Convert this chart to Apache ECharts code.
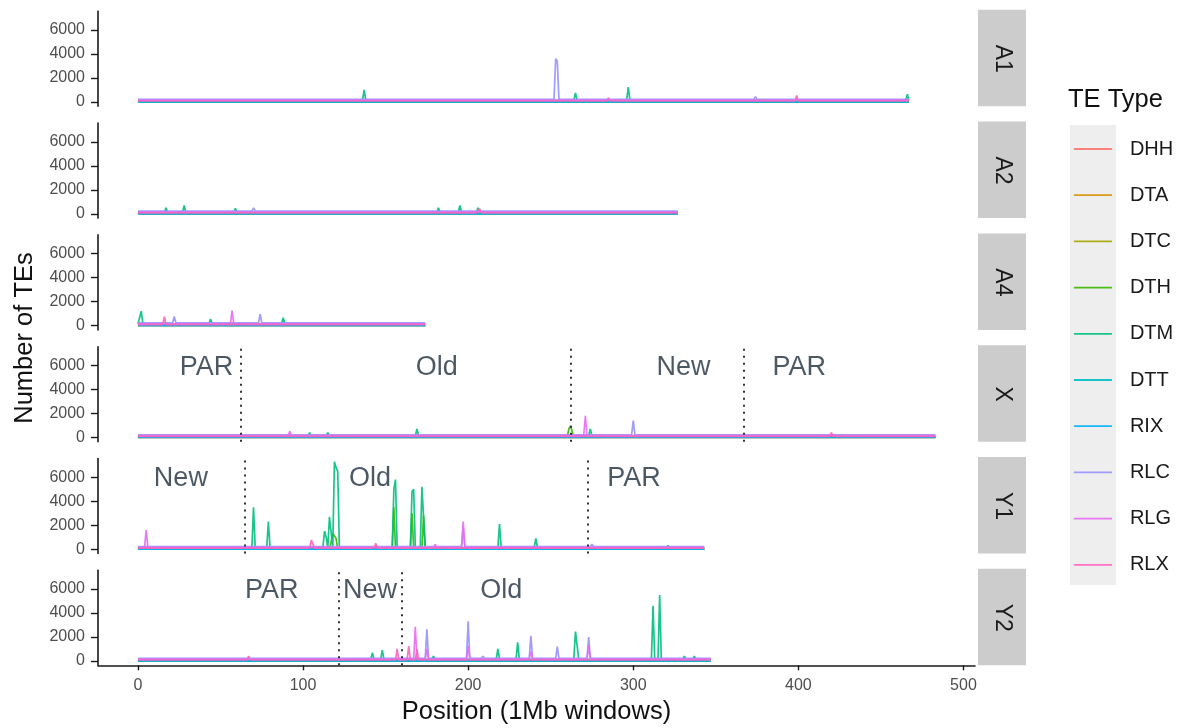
<!DOCTYPE html>
<html>
<head>
<meta charset="utf-8">
<title>TE counts along chromosomes</title>
<script src="https://cdn.jsdelivr.net/npm/echarts@6/dist/echarts.min.js"></script>
<style>
    html, body { margin: 0; padding: 0; background: #fff; }
    #chart { width: 1182px; height: 728px; }
</style>
</head>
<body>
<div id="chart"></div>
<script>
// facet rows and TE types
const panels = ['A1', 'A2', 'A4', 'X', 'Y1', 'Y2'];
const teTypes = ['DHH', 'DTA', 'DTC', 'DTH', 'DTM', 'DTT', 'RIX', 'RLC', 'RLG', 'RLX'];
const teColors = ['#F8766D', '#D89000', '#A3A500', '#39B600', '#00BF7D', '#00BFC4', '#00B0F6', '#9590FF', '#E76BF3', '#FF62BC'];

// last 1Mb window of each chromosome
const chromEnd = [467, 327, 174, 483, 343, 347];
// typical count per window for each TE type (the flat band near 0)
const baseCount = [5, 10, 5, 30, 130, 30, 0, 220, 150, 80];

// peaks: [type, window, count]
const peaksA1 = [
    ['DTM', 137, 1000], ['RLC', 253, 3600], ['RLC', 254, 3400], ['DTM', 265, 750], ['RLX', 285, 350],
    ['DTM', 297, 1250], ['RLC', 374, 450], ['RLX', 399, 550], ['DTM', 466, 650]
];
const peaksA2 = [
    ['DTM', 17, 500], ['DTM', 28, 700], ['DTM', 59, 450], ['RLC', 70, 500], ['DTM', 182, 500],
    ['DTM', 195, 700], ['RLX', 204, 0], ['DTM', 206, 500], ['RLX', 207, 420]
];
const peaksA4 = [
    ['DTM', 2, 1200], ['RLX', 16, 750], ['RLC', 22, 750], ['DTM', 44, 550], ['RLG', 57, 1250],
    ['RLC', 74, 950], ['DTM', 88, 650], ['RLC', 121, 350]
];
const peaksX = [
    ['RLG', 92, 500], ['DTM', 104, 400], ['DTM', 115, 400], ['DTM', 169, 700], ['DTH', 261, 700],
    ['DTH', 262, 950], ['DTH', 263, 800], ['RLG', 271, 1800], ['DTM', 274, 700], ['RLC', 300, 1400],
    ['RLX', 420, 400]
];
const peaksY1 = [
    ['RLG', 5, 1600], ['DTM', 70, 3500], ['DTM', 79, 2300], ['RLX', 105, 750], ['RLX', 106, 600],
    ['DTM', 113, 1500], ['DTM', 114, 1000], ['DTM', 116, 2700], ['DTM', 117, 2600], ['DTM', 119, 7300],
    ['DTM', 120, 6800], ['DTM', 121, 6500], ['DTH', 117, 600], ['DTH', 118, 1300], ['DTH', 119, 1400],
    ['DTH', 120, 900], ['RLX', 144, 500], ['DTM', 155, 5000], ['DTM', 156, 5800], ['DTH', 155, 3500],
    ['DTM', 166, 4800], ['DTM', 167, 5000], ['DTH', 166, 3000], ['DTM', 172, 5200], ['DTM', 173, 5300],
    ['DTH', 173, 2800], ['RLG', 180, 400], ['RLC', 197, 1800], ['RLG', 197, 2300], ['DTM', 219, 2100],
    ['DTM', 241, 900], ['RLC', 275, 400], ['DTM', 321, 300]
];
const peaksY2 = [
    ['RLX', 67, 400], ['DTM', 142, 700], ['DTM', 148, 900], ['RLX', 157, 1000], ['RLX', 164, 1250],
    ['RLG', 168, 2850], ['RLX', 169, 1000], ['RLC', 175, 2650], ['RLG', 175, 1000], ['DTM', 179, 400],
    ['RLC', 200, 3300], ['RLG', 200, 1250], ['RLC', 209, 400], ['DTM', 218, 1000], ['DTM', 230, 1550],
    ['RLC', 238, 2100], ['RLG', 238, 800], ['RLC', 254, 1200], ['DTM', 265, 2450], ['DTM', 266, 2300],
    ['RLC', 273, 2000], ['RLG', 273, 1300], ['DTM', 312, 4600], ['DTM', 316, 5500], ['DTM', 331, 400],
    ['DTM', 337, 400]
];
const panelPeaks = [peaksA1, peaksA2, peaksA4, peaksX, peaksY1, peaksY2];

// region labels and boundaries for the sex chromosomes
const regionLabelsX = [['PAR', 41.5], ['Old', 181], ['New', 330.5], ['PAR', 400.5]];
const regionLabelsY1 = [['New', 26], ['Old', 140.5], ['PAR', 300.5]];
const regionLabelsY2 = [['PAR', 81], ['New', 140.5], ['Old', 220]];
const boundsX = [62, 262, 367];
const boundsY1 = [64.5, 272.5];
const boundsY2 = [121.8, 159.8];
const labelHeight = 5850;

const yTicks = [0, 2000, 4000, 6000];
const xTicks = [0, 100, 200, 300, 400, 500];

// build one line: flat band with the peaks put in
function buildLine(p, t) {
    let base = baseCount[t];
    let pts = new Map();
    let put = function (x, y) {
        if (x < 0 || x > chromEnd[p]) return;
        pts.set(x, pts.has(x) ? Math.max(pts.get(x), y) : y);
    };
    put(0, base);
    put(chromEnd[p], base);
    let own = panelPeaks[p].filter(function (pk) { return pk[0] === teTypes[t]; });
    own.forEach(function (pk) {
        put(pk[1] - 1, base);
        put(pk[1] + 1, base);
    });
    own.forEach(function (pk) { pts.set(pk[1], pk[2]); });
    return Array.from(pts.entries()).sort(function (a, b) { return a[0] - b[0]; });
}

let chart = echarts.init(document.getElementById('chart'));

const fontFamily = 'Liberation Sans, Arial, Helvetica, sans-serif';
const gridLeft = 98, gridWidth = 877, gridH = 95, firstTop = 11.3, step = 111.8;

let grids = [], xAxes = [], yAxes = [], series = [], graphics = [];

panels.forEach(function (name, i) {
    let top = firstTop + i * step;
    let last = i === panels.length - 1;
    grids.push({left: gridLeft, top: top, width: gridWidth, height: gridH, outerBoundsMode: 'none'});
    xAxes.push({
        type: 'value', gridIndex: i, min: -24.2, max: 507,
        show: true,
        axisLine: {show: last, onZero: false, lineStyle: {color: '#1a1a1a', width: 1.6}},
        axisTick: {show: last, length: 5, customValues: xTicks, lineStyle: {color: '#1a1a1a', width: 1.4}},
        axisLabel: {show: last, customValues: xTicks, color: '#4d4d4d', fontSize: 16, margin: 12, fontFamily: fontFamily},
        splitLine: {show: false},
        name: last ? 'Position (1Mb windows)' : '',
        nameLocation: 'middle',
        nameGap: 34,
        nameTextStyle: {fontSize: 25.5, color: '#111', fontFamily: fontFamily}
    });
    yAxes.push({
        type: 'value', gridIndex: i, min: -360, max: 7560,
        axisLine: {show: true, onZero: false, lineStyle: {color: '#1a1a1a', width: 1.6}},
        axisTick: {show: true, length: 7, customValues: yTicks, lineStyle: {color: '#1a1a1a', width: 1.4}},
        axisLabel: {
            customValues: yTicks, color: '#4d4d4d', fontSize: 16, margin: 13, fontFamily: fontFamily,
            formatter: function (v) { return String(v); }
        },
        splitLine: {show: false}
    });
    teTypes.forEach(function (te, t) {
        series.push({
            name: te,
            type: 'line',
            xAxisIndex: i,
            yAxisIndex: i,
            symbol: 'none',
            silent: true,
            animation: false,
            color: teColors[t],
            lineStyle: {width: 1.7, color: teColors[t], opacity: 0.9},
            data: buildLine(i, t)
        });
    });
    // facet strip on the right
    graphics.push({
        type: 'rect', shape: {x: 978, y: top - 1.5, width: 48, height: gridH + 1.5},
        style: {fill: '#cccccc'}, silent: true
    });
    graphics.push({
        type: 'text', x: 1002, y: top + gridH / 2, rotation: -Math.PI / 2,
        style: {text: name, align: 'center', verticalAlign: 'middle', fontSize: 23, fill: '#1a1a1a', fontFamily: fontFamily},
        silent: true
    });
});

// region labels + dotted boundaries
function regionSeries(panelIdx, labels, bounds) {
    return {
        type: 'scatter',
        xAxisIndex: panelIdx,
        yAxisIndex: panelIdx,
        symbolSize: 0,
        silent: true,
        animation: false,
        data: labels.map(function (l) { return [l[1], labelHeight, l[0]]; }),
        label: {
            show: true, position: 'inside',
            formatter: function (p) { return p.value[2]; },
            fontSize: 27, color: '#1f2d3d', fontFamily: fontFamily
        },
        markLine: {
            silent: true, symbol: 'none', animation: false,
            label: {show: false},
            lineStyle: {type: [2, 5], color: '#333', width: 2},
            data: bounds.map(function (b) { return {xAxis: b}; })
        }
    };
}
series.push(regionSeries(3, regionLabelsX, boundsX));
series.push(regionSeries(4, regionLabelsY1, boundsY1));
series.push(regionSeries(5, regionLabelsY2, boundsY2));

// legend key background, legend title, y axis title
graphics.push({
    type: 'rect', shape: {x: 1070, y: 125, width: 46, height: 460},
    style: {fill: '#eeeeee'}, z: -1, silent: true
});
graphics.push({
    type: 'text', x: 1068, y: 100,
    style: {text: 'TE Type', align: 'left', verticalAlign: 'middle', fontSize: 25.5, fill: '#111', fontFamily: fontFamily},
    silent: true
});
graphics.push({
    type: 'text', x: 25, y: 338, rotation: Math.PI / 2,
    style: {text: 'Number of TEs', align: 'center', verticalAlign: 'middle', fontSize: 25.5, fill: '#111', fontFamily: fontFamily},
    silent: true
});

let option = {
    backgroundColor: '#ffffff',
    animation: false,
    textStyle: {fontFamily: fontFamily},
    grid: grids,
    xAxis: xAxes,
    yAxis: yAxes,
    legend: {
        data: teTypes,
        orient: 'vertical',
        left: 1073,
        top: 139,
        padding: 0,
        itemWidth: 38,
        itemHeight: 20,
        itemGap: 26.2,
        selectedMode: false,
        itemStyle: {opacity: 0},
        lineStyle: {width: 1.8},
        textStyle: {fontSize: 20, color: '#1a1a1a', padding: [0, 0, 0, 13], fontFamily: fontFamily}
    },
    graphic: {elements: graphics},
    series: series
};

chart.setOption(option);
</script>
</body>
</html>
